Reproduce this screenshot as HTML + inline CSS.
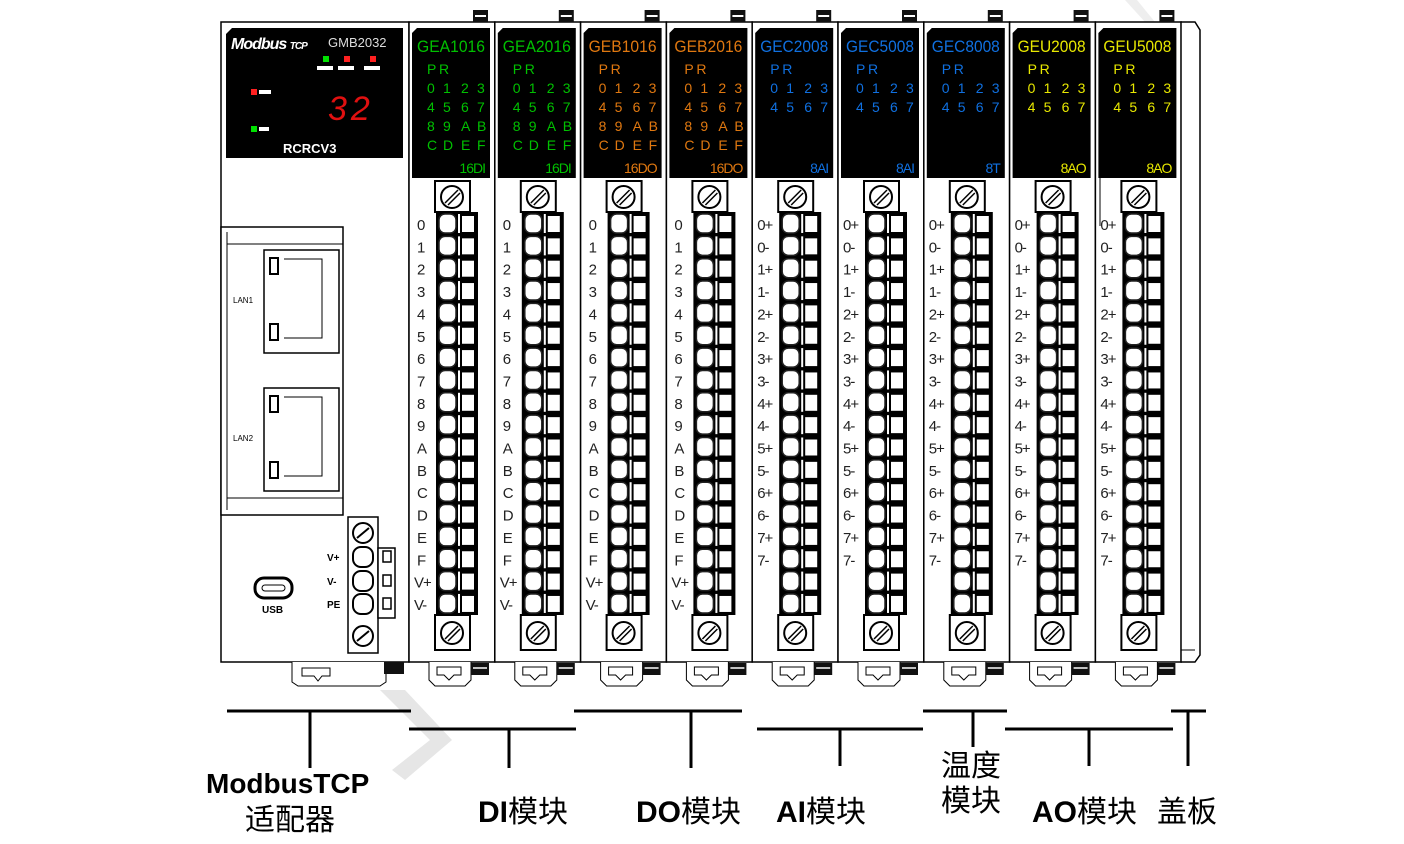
<!DOCTYPE html>
<html><head><meta charset="utf-8"><style>
body{margin:0;background:#fff;width:1404px;height:844px;overflow:hidden}
svg{display:block}
</style></head><body>
<div id="w"></div>
<script>
let s='<svg xmlns="http://www.w3.org/2000/svg" width="1404" height="844" viewBox="0 0 1404 844">';
const F='font-family="Liberation Sans, Noto Sans CJK SC, sans-serif"';
s+='<polygon points="380,690 405,690 452,740 405,780 392,770 430,740" fill="#e6e6e6"/>';
s+='<polygon points="1125,0 1137,0 1155,22 1145,22" fill="#eeeeee"/>';
s+='<rect x="221" y="22" width="188" height="640" fill="#fff" stroke="#000" stroke-width="1.5"/>';
s+='<path d="M232,28 H403 V158 H226 V34 Z" fill="#000"/>';
s+=`<text x="231" y="49" ${F} font-size="16" font-style="italic" font-weight="bold" fill="#fff" letter-spacing="-1">Modbus <tspan font-size="10">TCP</tspan></text>`;
s+=`<text x="328" y="47" ${F} font-size="13" fill="#ddd">GMB2032</text>`;
[[323,'#00e000'],[344,'#ff2020'],[370,'#ff2020']].forEach(a=>{s+=`<rect x="${a[0]}" y="56" width="6" height="6" fill="${a[1]}"/><rect x="${a[0]-6}" y="66" width="16" height="4" fill="#fff"/>`});
s+='<rect x="251" y="89" width="6" height="6" fill="#ff2020"/><rect x="259" y="90" width="12" height="4" fill="#fff"/>';
s+='<rect x="251" y="126" width="6" height="6" fill="#00e000"/><rect x="259" y="127" width="10" height="4" fill="#fff"/>';
s+=`<text x="328" y="120" ${F} font-size="34" fill="#e01010" font-style="italic" letter-spacing="4">32</text>`;
s+=`<text x="283" y="153" ${F} font-size="13" font-weight="bold" fill="#fff">RCRCV3</text>`;
s+='<rect x="221" y="227" width="122" height="288" fill="#fff" stroke="#000" stroke-width="1.5"/>';
s+='<line x1="227" y1="244" x2="343" y2="244" stroke="#000"/><line x1="227" y1="498" x2="343" y2="498" stroke="#000"/><line x1="227" y1="232" x2="227" y2="510" stroke="#000"/>';
[[250,'LAN1'],[388,'LAN2']].forEach(a=>{let y=a[0];
s+=`<rect x="264" y="${y}" width="75" height="103" fill="#fff" stroke="#000" stroke-width="1.5"/>`;
s+=`<path d="M284,${y+9} H322 V${y+88} H284" fill="none" stroke="#000"/>`;
s+=`<rect x="270" y="${y+8}" width="8" height="16" fill="#fff" stroke="#000" stroke-width="2"/><rect x="270" y="${y+74}" width="8" height="16" fill="#fff" stroke="#000" stroke-width="2"/>`;
s+=`<text x="233" y="${y+53}" ${F} font-size="8" fill="#000">${a[1]}</text>`;});
s+='<rect x="348" y="517" width="30" height="136" fill="#fff" stroke="#000" stroke-width="1.5"/><rect x="378" y="548" width="17" height="70" fill="#fff" stroke="#000" stroke-width="1.5"/>';
[533,636].forEach(y=>{s+=`<circle cx="363" cy="${y}" r="10" fill="#fff" stroke="#000" stroke-width="2"/><line x1="357" y1="${y+5}" x2="369" y2="${y-5}" stroke="#000" stroke-width="2"/>`});
[557,581,604].forEach((y,i)=>{s+=`<rect x="353" y="${y-10}" width="20" height="20" rx="8" fill="#fff" stroke="#000" stroke-width="2"/><rect x="383" y="${y-6}" width="8" height="11" fill="#fff" stroke="#000" stroke-width="1.5"/><text x="327" y="${y+4}" ${F} font-size="10" font-weight="bold">${['V+','V-','PE'][i]}</text>`});
s+='<rect x="255" y="578" width="37" height="20" rx="9" fill="#fff" stroke="#000" stroke-width="3"/><rect x="262" y="585" width="23" height="6" rx="3" fill="#fff" stroke="#000"/>';
s+=`<text x="262" y="613" ${F} font-size="10" font-weight="bold">USB</text>`;
s+='<path d="M292,662 V682 L298,686 H380 L386,682 V662" fill="#fff" stroke="#000"/><path d="M302,668 H330 V676 H322 L318,681 L314,676 H302 Z" fill="#fff" stroke="#000"/>';
s+='<rect x="384" y="662" width="20" height="12" fill="#111"/>';
const mods=[['GEA1016','#00c000','16DI','d'],['GEA2016','#00c000','16DI','d'],['GEB1016','#e07810','16DO','d'],['GEB2016','#e07810','16DO','d'],['GEC2008','#1070e0','8AI','a'],['GEC5008','#1070e0','8AI','a'],['GEC8008','#1070e0','8T','a'],['GEU2008','#e8e800','8AO','a'],['GEU5008','#e8e800','8AO','a']];
const dl=['0','1','2','3','4','5','6','7','8','9','A','B','C','D','E','F','V+','V-'];
const al=['0+','0-','1+','1-','2+','2-','3+','3-','4+','4-','5+','5-','6+','6-','7+','7-'];
mods.forEach((m,i)=>{const x=409+i*85.8,c=m[1];
s+=`<rect x="${x}" y="22" width="85.8" height="640" fill="#fff" stroke="#000" stroke-width="1.5"/>`;
s+=`<rect x="${x+64}" y="10" width="15" height="12" fill="#111"/><line x1="${x+66}" y1="16" x2="${x+77}" y2="16" stroke="#fff" stroke-width="2"/>`;
s+=`<path d="M${x+8},28 H${x+81} V178 H${x+3} V33 Z" fill="#000"/>`;
s+=`<text x="${x+8}" y="52" ${F} font-size="17" fill="${c}" textLength="68" lengthAdjust="spacingAndGlyphs">${m[0]}</text>`;
const cols=[x+18,x+34,x+52,x+68];
s+=`<text y="74" ${F} font-size="14" fill="${c}"><tspan x="${cols[0]}">P</tspan><tspan x="${cols[1]-4}">R</tspan></text>`;
const rows=m[3]=='d'?['0123','4567','89AB','CDEF']:['0123','4567'];
rows.forEach((r,k)=>{s+=`<text y="${93+k*19}" ${F} font-size="14" fill="${c}">`+[...r].map((ch,j)=>`<tspan x="${cols[j]}">${ch}</tspan>`).join('')+'</text>'});
s+=`<text x="${x+76}" y="173" ${F} font-size="14" fill="${c}" text-anchor="end" letter-spacing="-1">${m[2]}</text>`;
s+=`<rect x="${x+26}" y="181" width="35" height="31" fill="#fff" stroke="#000" stroke-width="2"/><circle cx="${x+43}" cy="197" r="11" fill="#fff" stroke="#000" stroke-width="2"/><line x1="${x+36}" y1="203" x2="${x+49}" y2="190" stroke="#000" stroke-width="1.5"/><line x1="${x+39}" y1="205" x2="${x+51}" y2="193" stroke="#000" stroke-width="1.5"/>`;
s+=`<rect x="${x+27}" y="212" width="42" height="403" fill="#000"/>`;
for(let r=0;r<18;r++){const y=214+r*22.35;
s+=`<rect x="${x+30}" y="${y}" width="17" height="19" rx="6" fill="#fff" stroke="#222" stroke-width="1.5"/><rect x="${x+53}" y="${y+2}" width="12" height="16" fill="#fff"/><rect x="${x+49}" y="${y}" width="2" height="19" fill="#fff"/>`;}
s+=`<rect x="${x+26}" y="615" width="35" height="35" fill="#fff" stroke="#000" stroke-width="2"/><circle cx="${x+43}" cy="633" r="11" fill="#fff" stroke="#000" stroke-width="2"/><line x1="${x+36}" y1="639" x2="${x+49}" y2="626" stroke="#000" stroke-width="1.5"/><line x1="${x+39}" y1="641" x2="${x+51}" y2="629" stroke="#000" stroke-width="1.5"/>`;
const labs=m[3]=='d'?dl:al;
labs.forEach((t,k)=>{s+=`<text x="${x+(t.length>1?5:8)}" y="${230+k*22.35}" ${F} font-size="15" fill="#222" letter-spacing="-1">${t}</text>`});
s+=`<path d="M${x+20},662 V680 L${x+26},686 H${x+56} L${x+62},680 V662" fill="#fff" stroke="#000"/><path d="M${x+28},667 H${x+52} V675 H${x+45} L${x+40},680 L${x+35},675 H${x+28} Z" fill="#fff" stroke="#000"/>`;
s+=`<rect x="${x+62}" y="663" width="18" height="12" fill="#111"/><line x1="${x+64}" y1="668" x2="${x+78}" y2="668" stroke="#fff" stroke-width="1.5"/>`;
});
s+='<path d="M1100,178 V226" stroke="#000"/>';
s+='<path d="M1181,22 H1195 L1200,30 V655 L1195,662 H1181 Z" fill="#fff" stroke="#000" stroke-width="1.5"/><line x1="1181" y1="650" x2="1195" y2="650" stroke="#000"/>';
const L=(x1,y1,x2,y2)=>s+=`<line x1="${x1}" y1="${y1}" x2="${x2}" y2="${y2}" stroke="#000" stroke-width="3"/>`;
L(227,711,411,711);L(310,711,310,768);
L(409,729,576,729);L(509,729,509,768);
L(574,711,742,711);L(691,711,691,768);
L(757,729,923,729);L(840,729,840,766);
L(923,711,1007,711);L(973,711,973,747);
L(1005,729,1173,729);L(1089,729,1089,766);
L(1171,711,1206,711);L(1188,711,1188,766);
const T=(x,y,t,sz,b)=>s+=`<text x="${x}" y="${y}" font-family="Liberation Sans, Noto Sans CJK SC, sans-serif" font-size="${sz}" ${b?'font-weight="bold"':''} fill="#000">${t}</text>`;
T(206,793,'ModbusTCP',28,1);
T(245,830,'适配器',30);
s+=`<text x="478" y="822" ${F} font-size="30" fill="#000"><tspan font-weight="bold">DI</tspan>模块</text>`;
s+=`<text x="636" y="822" ${F} font-size="30" fill="#000"><tspan font-weight="bold">DO</tspan>模块</text>`;
s+=`<text x="776" y="822" ${F} font-size="30" fill="#000"><tspan font-weight="bold">AI</tspan>模块</text>`;
T(941,776,'温度',30);T(941,811,'模块',30);
s+=`<text x="1032" y="822" ${F} font-size="30" fill="#000"><tspan font-weight="bold">AO</tspan>模块</text>`;
T(1157,822,'盖板',30);
s+='</svg>';
document.getElementById('w').innerHTML=s;
</script>
</body></html>
